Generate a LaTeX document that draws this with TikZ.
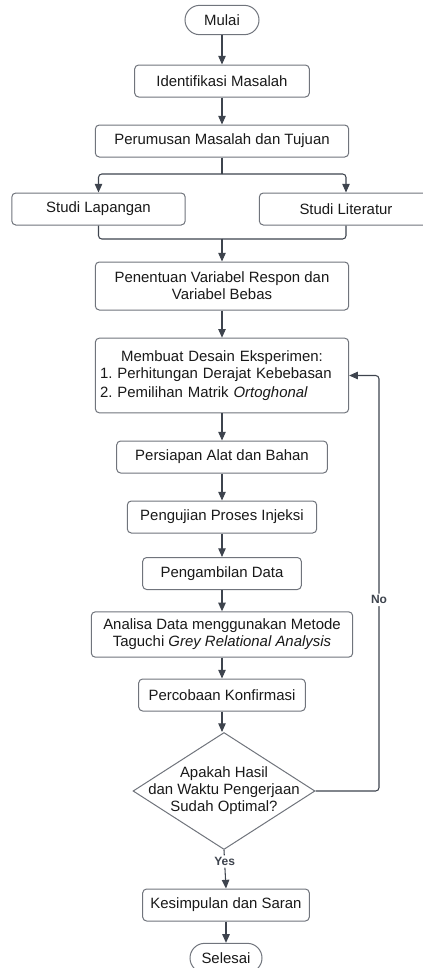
\documentclass[tikz,border=0pt]{standalone}
\usepackage{fontspec}
\setmainfont{Liberation Sans}
\usepackage{xcolor}
\usetikzlibrary{positioning,arrows.meta,shapes.geometric}
\definecolor{edgeC}{RGB}{112,116,124}
\definecolor{lineC}{RGB}{62,68,78}
\definecolor{textC}{RGB}{25,25,25}
\begin{document}
\frenchspacing
\begin{tikzpicture}[
  x=0.75pt, y=-0.75pt,
  font=\fontsize{11.2}{12.8}\selectfont,
  every node/.style={align=center, inner sep=3pt, text=textC},
  box/.style={draw=edgeC, fill=white, rounded corners=3pt, line width=0.75pt,
              minimum height=24pt},
  term/.style={box, rounded corners=11pt, minimum height=22pt},
  decision/.style={draw=edgeC, fill=white, diamond, line width=0.75pt, inner sep=0pt,
                   minimum width=136.5pt, minimum height=87.75pt, aspect=1.55},
  conn/.style={draw=lineC, line width=0.8pt, rounded corners=2.5pt},
  arr/.style={conn, -{Triangle[length=6.5pt,width=5.6pt]}},
  lbl/.style={font=\fontsize{9}{10}\selectfont\bfseries, text=lineC, fill=white,
              inner sep=1.5pt}
]
\useasboundingbox (0,0) rectangle (422,968);

% --- Main column (coordinates in pixels of the 422x968 layout) ---
\node[term, minimum width=55.5pt] (mulai) at (222, 20)  {Mulai};
\node[box, minimum width=131pt]   (iden)  at (222, 81)  {Identifikasi Masalah};
\node[box, minimum width=190pt]   (rumus) at (222, 141) {Perumusan Masalah dan Tujuan};

% --- Two parallel studies ---
\node[box, minimum width=130pt]   (lap)   at (98.5, 209) {Studi Lapangan};
\node[box, minimum width=130pt]   (lit)   at (346, 209)  {Studi Literatur};

\node[box, minimum width=190pt, minimum height=36pt]
                                  (resp)  at (222, 286) {Penentuan Variabel Respon dan\\
                                                         Variabel Bebas};
\node[box, minimum width=190pt, minimum height=56pt, text width=183pt, align=left]
                                  (desain) at (222, 375.5)
  {\hfil Membuat Desain Eksperimen:\\
   1. Perhitungan Derajat Kebebasan\\[1.5pt]
   2. Pemilihan Matrik \textit{Ortoghonal}};
\node[box, minimum width=158pt]   (alat)  at (222, 457)  {Persiapan Alat dan Bahan};
\node[box, minimum width=142pt]   (uji)   at (222, 517)  {Pengujian Proses Injeksi};
\node[box, minimum width=119pt]   (ambil) at (222, 573.5) {Pengambilan Data};
\node[box, minimum width=196pt, minimum height=34pt]
                                  (anal)  at (222, 634.5) {Analisa Data menggunakan Metode\\
                                                           Taguchi \textit{Grey Relational Analysis}};
\node[box, minimum width=125pt]   (konf)  at (222, 695)  {Percobaan Konfirmasi};

% --- Decision and end ---
\node[decision, label={[align=center, inner sep=0pt]center:Apakah Hasil\\
       dan Waktu Pengerjaan\\ Sudah Optimal?}]
                                  (cek)   at (224, 791) {};
\node[box, minimum width=125pt]   (simp)  at (226, 905)  {Kesimpulan dan Saran};
\node[term, minimum width=54pt]   (sel)   at (226, 958)  {Selesai};

% --- Split and join of the two studies ---
\coordinate (split) at (222, 174);
\coordinate (join)  at (222, 239);
\draw[conn] (rumus.south) -- (split);
\draw[arr]  (split) -| (lap.north);
\draw[arr]  (split) -| (lit.north);
\draw[conn] (lap.south) |- (join);
\draw[conn] (lit.south) |- (join);

% --- Column arrows ---
\draw[arr] (mulai)  -- (iden);
\draw[arr] (iden)   -- (rumus);
\draw[arr] (join)   -- (resp.north);
\draw[arr] (resp)   -- (desain);
\draw[arr] (desain) -- (alat);
\draw[arr] (alat)   -- (uji);
\draw[arr] (uji)    -- (ambil);
\draw[arr] (ambil)  -- (anal);
\draw[arr] (anal)   -- (konf);
\draw[arr] (konf.south) -- (konf.south |- cek.north);
\draw[arr] (cek.south) -- node[lbl, pos=0.3] {Yes} (simp.north);
\draw[arr] (simp)   -- (sel);

% --- Feedback loop when not optimal ---
\coordinate (loop) at (379, 791);
\draw[arr] (cek.east) -- (loop) |- node[lbl, pos=0.23] {No} (desain.east);

\end{tikzpicture}
\end{document}
